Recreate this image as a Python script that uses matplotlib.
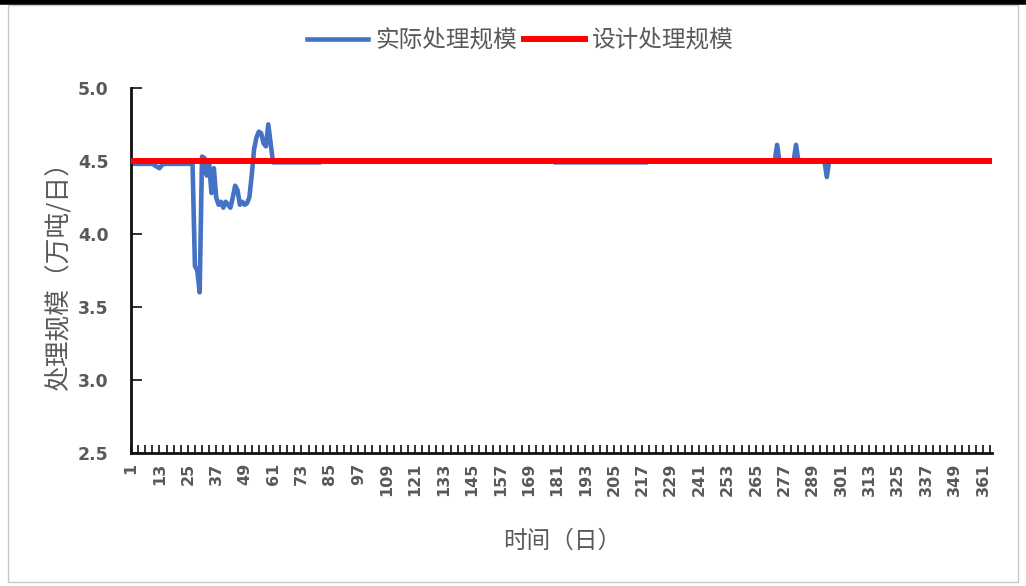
import matplotlib.pyplot as plt
import numpy as np

plt.rcParams['font.family'] = ['Noto Sans CJK SC', 'DejaVu Sans']

# 日处理量（万吨/日），第1天到第365天
days = np.arange(1, 366)
actual = ([4.48]*10 + [4.47, 4.46, 4.45, 4.47, 4.48] + [4.48]*12 +
          [3.78, 3.75, 3.60, 4.53, 4.52, 4.40, 4.48, 4.28, 4.45, 4.25,
           4.20, 4.22, 4.18, 4.22, 4.20, 4.18, 4.25, 4.33, 4.30, 4.20,
           4.22, 4.20, 4.21, 4.25, 4.40, 4.58, 4.66, 4.70, 4.69, 4.62,
           4.60, 4.75, 4.62, 4.49] +
          [4.49]*20 + [4.50]*98 + [4.49]*40 + [4.50]*54 +
          [4.61, 4.50, 4.50, 4.50, 4.50, 4.50, 4.50, 4.50, 4.61] +
          [4.50]*12 + [4.39] + [4.50]*70)
design = [4.5]*365

xtick_days = list(range(1, 366, 12))
yticks = [2.5, 3.0, 3.5, 4.0, 4.5, 5.0]

fig = plt.figure(figsize=(10.26, 5.86), dpi=100)
ax = fig.add_axes([0.1277, 0.227, 0.8396, 0.623])

ax.plot(days, actual, color='#4472C4', lw=3.3, label='实际处理规模', zorder=2)
ax.plot(days, design, color='#FF0000', lw=4.3, label='设计处理规模', zorder=3)

ax.set_xlim(1, 365)
ax.set_ylim(2.5, 5.0)
ax.set_yticks(yticks)
ax.set_yticklabels([f'{v:.1f}' for v in yticks], fontsize=12.5, fontweight='bold',
                   color='#595959', family='DejaVu Sans')
ax.set_xticks(xtick_days)
ax.set_xticklabels([str(d) for d in xtick_days], rotation=90, fontsize=11.5,
                   fontweight='bold', color='#595959', family='DejaVu Sans')
ax.set_xticks(range(1, 366, 3), minor=True)
ax.tick_params(axis='x', which='both', direction='in', length=6, width=1.3,
               color='#222222', pad=7)
ax.tick_params(axis='y', direction='in', length=8, width=1.3, color='#222222', pad=16)

for s in ['top', 'right']:
    ax.spines[s].set_visible(False)
for s in ['left', 'bottom']:
    ax.spines[s].set_linewidth(2)
    ax.spines[s].set_color('#111111')

ax.set_xlabel('时间（日）', fontsize=17, color='#595959', labelpad=24)
ax.set_ylabel('处理规模（万吨/日）', fontsize=18.5, color='#595959', labelpad=4)

ax.legend(loc='center', bbox_to_anchor=(0.452, 1.13), ncol=2, frameon=False,
          fontsize=17, labelcolor='#595959', handlelength=2.6, columnspacing=0.3,
          handletextpad=0.3)

# 外框
fig.add_artist(plt.Line2D([0, 1], [0.9965, 0.9965], color='black', lw=4,
                          transform=fig.transFigure))
fig.add_artist(plt.Rectangle((0.008, 0.006), 0.984, 0.985, fill=False,
                             edgecolor='#c8c8c8', lw=1, transform=fig.transFigure))

fig.savefig('out.png', dpi=100)
